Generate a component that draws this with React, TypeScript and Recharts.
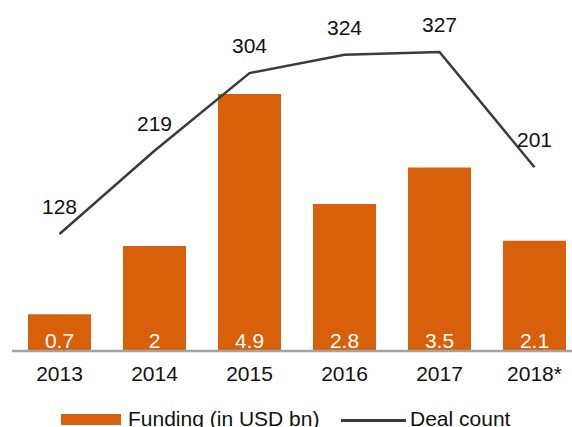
import React from "react";
import {
  ComposedChart,
  Bar,
  Line,
  XAxis,
  YAxis,
  Legend,
  LabelList,
} from "recharts";

const YEARS = ["2013", "2014", "2015", "2016", "2017", "2018*"];
const FUNDING = [0.7, 2, 4.9, 2.8, 3.5, 2.1];
const DEALS = [128, 219, 304, 324, 327, 201];

const ORANGE = "#D9600A";
const LINE = "#3b3b3b";
const AXIS = "#a3a3a3";
const FONT = '"Liberation Sans", Arial, Helvetica, sans-serif';

const data = YEARS.map((year, i) => ({
  year,
  funding: FUNDING[i],
  deals: DEALS[i],
}));

function LegendBox() {
  return (
    <div
      style={{
        height: 36,
        width: 572,
        position: "relative",
        fontFamily: FONT,
        fontSize: 21,
        lineHeight: "24px",
        color: "#111",
      }}
    >
      <div
        style={{
          position: "absolute",
          left: 61,
          top: 23,
          width: 60,
          height: 11,
          background: ORANGE,
        }}
      />
      <div style={{ position: "absolute", left: 128, top: 16, whiteSpace: "nowrap" }}>
        Funding (in USD bn)
      </div>
      <div
        style={{
          position: "absolute",
          left: 341,
          top: 28,
          width: 65,
          height: 2.5,
          background: LINE,
        }}
      />
      <div style={{ position: "absolute", left: 410, top: 16, whiteSpace: "nowrap" }}>
        Deal count
      </div>
    </div>
  );
}

export default function App() {
  return (
    <div
      style={{
        position: "absolute",
        left: 0,
        top: 0,
        width: 572,
        height: 427,
        overflow: "hidden",
        background: "#fff",
      }}
    >
      <ComposedChart
        width={600}
        height={427}
        data={data}
        margin={{ top: 31, right: 18, bottom: 0, left: 12 }}
        style={{ fontFamily: FONT }}
      >
        <XAxis
          dataKey="year"
          height={40}
          tickLine={false}
          axisLine={{ stroke: AXIS, strokeWidth: 2.5 }}
          tick={{ fill: "#111", fontSize: 21 }}
          tickMargin={9}
        />
        <YAxis yAxisId="left" hide domain={[0, 6.1]} />
        <YAxis yAxisId="right" hide orientation="right" domain={[0, 350]} />
        <Legend
          verticalAlign="bottom"
          wrapperStyle={{ left: 0, width: 572 }}
          content={() => <LegendBox />}
        />
        <Bar
          yAxisId="left"
          dataKey="funding"
          fill={ORANGE}
          barSize={63}
          isAnimationActive={false}
        >
          <LabelList
            dataKey="funding"
            position="insideBottom"
            offset={3}
            fill="#fff"
            fontSize={21}
          />
        </Bar>
        <Line
          yAxisId="right"
          dataKey="deals"
          stroke={LINE}
          strokeWidth={2.5}
          dot={false}
          isAnimationActive={false}
        >
          <LabelList dataKey="deals" position="top" offset={20} fill="#111" fontSize={21} />
        </Line>
      </ComposedChart>
    </div>
  );
}
